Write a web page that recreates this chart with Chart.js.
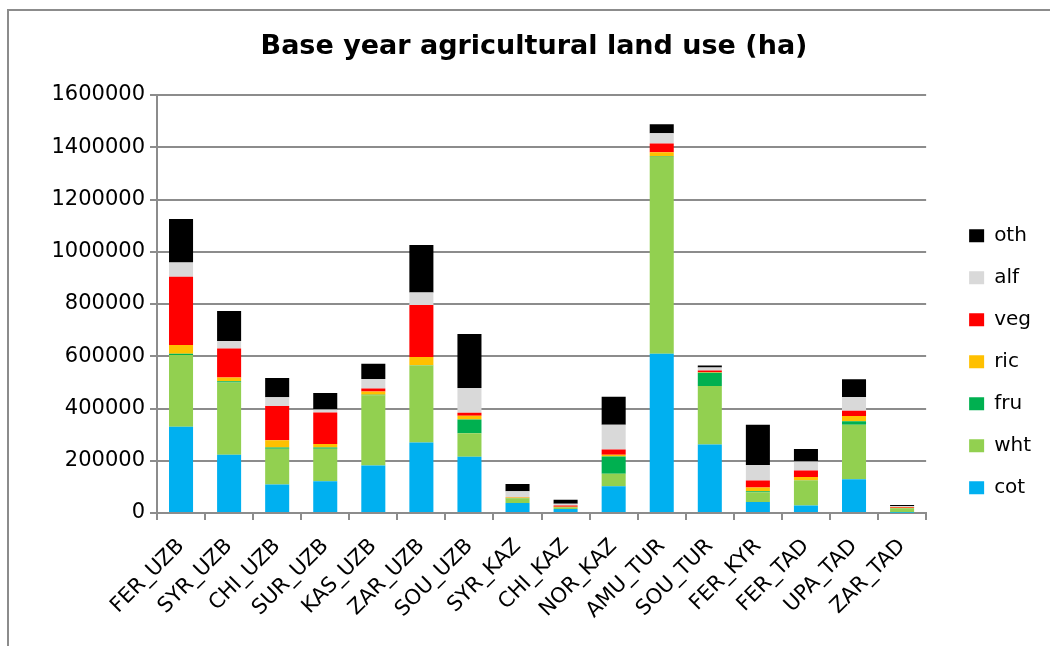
<!DOCTYPE html>
<html>
<head>
<meta charset="utf-8">
<script src="https://cdn.jsdelivr.net/npm/chart.js@4.4.1/dist/chart.umd.min.js"></script>
<style>
  body { margin: 0; background: #fff; }
  #wrap { position: relative; width: 1050px; height: 646px; overflow: hidden; }
  #frame { position: absolute; left: 7px; top: 9px; width: 1100px; height: 700px; border: 2px solid #8c8c8c; }
  #myChart { position: absolute; left: 0; top: 0; }
</style>
</head>
<body>
<div id="wrap">
  <div id="frame"></div>
  <canvas id="myChart" width="1050" height="646"></canvas>
</div>
<script>
var regions = ["FER_UZB","SYR_UZB","CHI_UZB","SUR_UZB","KAS_UZB","ZAR_UZB","SOU_UZB","SYR_KAZ",
               "CHI_KAZ","NOR_KAZ","AMU_TUR","SOU_TUR","FER_KYR","FER_TAD","UPA_TAD","ZAR_TAD"];

// hectares per crop
var cot = [330000,223000,109000,122000,182000,270000,215000,38000,15000,102000,610000,262000,42000,29000,129000,1000];
var wht = [275000,277000,137000,124000,269000,295000,90000,18000,5000,48000,753000,224000,37000,94000,209000,17000];
var fru = [5000,4000,5000,5000,2000,1000,53000,1000,1000,66000,2000,51000,4000,1000,13000,1000];
var ric = [33000,15000,27000,13000,12000,31000,14000,2000,3000,7000,16000,2000,15000,14000,20000,1000];
var veg = [261000,111000,132000,121000,12000,199000,12000,1000,5000,20000,33000,6000,26000,25000,20000,3000];
var alf = [55000,28000,33000,11000,36000,48000,94000,23000,6000,95000,40000,12000,60000,34000,53000,4000];
var oth = [166000,115000,74000,63000,58000,182000,207000,28000,16000,107000,34000,8000,154000,48000,68000,4000];

var yTicks = [0,200000,400000,600000,800000,1000000,1200000,1400000,1600000];

var gridColor = "#8c8c8c";

function ds(label, data, color) {
    return { label: label, data: data, backgroundColor: color, borderWidth: 0,
             barPercentage: 0.5, categoryPercentage: 1.0 };
}

new Chart("myChart", {
    type: "bar",
    data: {
        labels: regions,
        datasets: [
            ds("cot", cot, "#00b0f0"),
            ds("wht", wht, "#92d050"),
            ds("fru", fru, "#00b050"),
            ds("ric", ric, "#ffc000"),
            ds("veg", veg, "#ff0000"),
            ds("alf", alf, "#d9d9d9"),
            ds("oth", oth, "#000000")
        ]
    },
    options: {
        responsive: false,
        animation: false,
        layout: { padding: { left: 27, right: 9, top: 0, bottom: 0 } },
        plugins: {
            tooltip: { enabled: false },
            title: {
                display: true,
                text: "Base year agricultural land use (ha)",
                color: "#000",
                font: { family: "'DejaVu Sans'", size: 27, weight: "bold" },
                padding: { top: 31, bottom: 31.6 }
            },
            legend: {
                position: "right",
                reverse: true,
                title: { display: true, text: "", padding: { top: 63, bottom: 0 } },
                labels: {
                    boxWidth: 15, boxHeight: 13, padding: 22, color: "#000",
                    font: { family: "'DejaVu Sans'", size: 20 }
                }
            }
        },
        scales: {
            x: {
                stacked: true,
                grid: { display: true, drawOnChartArea: false, color: gridColor, lineWidth: 2, tickLength: 7 },
                border: { color: gridColor, width: 2 },
                ticks: {
                    color: "#000", autoSkip: false, minRotation: 45, maxRotation: 45,
                    padding: 14, font: { family: "'DejaVu Sans'", size: 21 }
                },
                afterFit: function (s) { s.height = 133; }
            },
            y: {
                stacked: true,
                min: 0, max: 1600000,
                afterBuildTicks: function (s) { s.ticks = yTicks.map(function (v) { return { value: v }; }); },
                grid: { color: gridColor, lineWidth: 2, tickLength: 7 },
                border: { color: gridColor, width: 2 },
                ticks: {
                    color: "#000", padding: 5, font: { family: "'DejaVu Sans'", size: 21 },
                    callback: function (v) { return String(v); }
                },
                afterFit: function (s) { s.width = 130; }
            },
            pad: {
                type: "linear", position: "right", display: true,
                grid: { display: false }, border: { display: false }, ticks: { display: false },
                afterFit: function (s) { s.width = 21; }
            }
        }
    }
});
</script>
</body>
</html>
